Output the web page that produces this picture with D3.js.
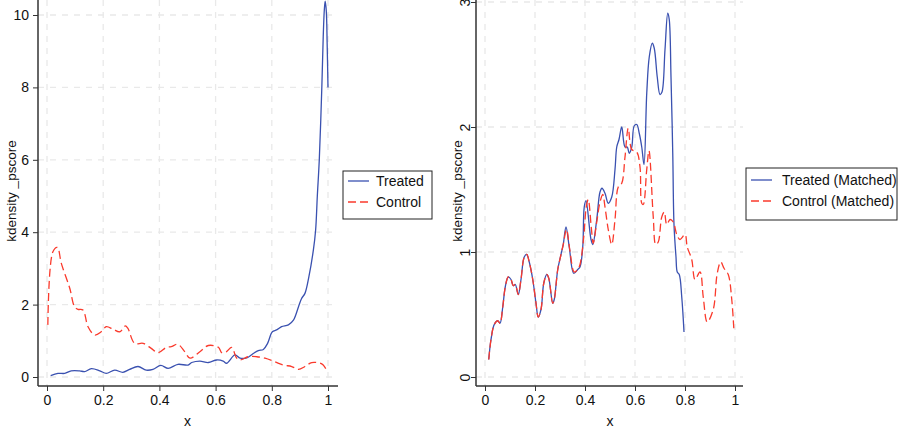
<!DOCTYPE html>
<html lang="en">
<head>
    <meta charset="UTF-8">
    <title>kdensity _pscore</title>
    <script src="https://cdn.jsdelivr.net/npm/d3@7"></script>
    <style>
        body { margin: 0; background: #fff; }
        text { font-family: "Liberation Sans", Arial, sans-serif; fill: #111; }
    </style>
</head>
<body>
</body>
<script>
    // ---- data ----
    var xTicks = [0, 0.2, 0.4, 0.6, 0.8, 1];
    var yTicksLeft = [0, 2, 4, 6, 8, 10];
    var yTicksRight = [0, 1, 2, 3];
    var legendLeft = ['Treated', 'Control'];
    var legendRight = ['Treated (Matched)', 'Control (Matched)'];
    var yTitle = 'kdensity _pscore';
    var xTitle = 'x';

    // left panel: treated
    var treatedX = [0.013, 0.039, 0.063, 0.086, 0.116, 0.134, 0.158, 0.188, 0.211, 0.241, 0.270, 0.294, 0.324, 0.353, 0.377, 0.405, 0.431, 0.466, 0.502, 0.515, 0.544, 0.574, 0.604, 0.627, 0.639, 0.669, 0.687, 0.711, 0.734, 0.752, 0.770, 0.785, 0.802, 0.817, 0.835, 0.859, 0.877, 0.895, 0.906, 0.918, 0.932, 0.948, 0.956, 0.962, 0.969, 0.978, 0.983, 0.987, 0.990, 0.994, 0.997, 1.0];
    var treatedY = [0.04, 0.10, 0.10, 0.17, 0.17, 0.15, 0.23, 0.17, 0.10, 0.19, 0.13, 0.21, 0.29, 0.19, 0.21, 0.32, 0.24, 0.35, 0.33, 0.40, 0.44, 0.40, 0.47, 0.44, 0.38, 0.61, 0.52, 0.53, 0.65, 0.73, 0.76, 0.93, 1.25, 1.30, 1.39, 1.44, 1.57, 1.94, 2.17, 2.31, 2.77, 3.51, 4.06, 5.0, 6.0, 8.0, 9.4, 10.15, 10.38, 10.1, 9.2, 8.0];

    // left panel: control
    var controlX = [0.003, 0.021, 0.037, 0.051, 0.081, 0.098, 0.110, 0.128, 0.146, 0.170, 0.193, 0.211, 0.235, 0.259, 0.279, 0.288, 0.312, 0.342, 0.371, 0.395, 0.425, 0.442, 0.466, 0.490, 0.509, 0.544, 0.574, 0.610, 0.622, 0.639, 0.657, 0.675, 0.687, 0.716, 0.746, 0.776, 0.811, 0.841, 0.871, 0.895, 0.918, 0.942, 0.972, 0.983, 0.995];
    var controlY = [1.44, 3.46, 3.58, 3.14, 2.45, 1.94, 1.87, 1.85, 1.39, 1.16, 1.25, 1.39, 1.32, 1.25, 1.41, 1.34, 0.93, 0.93, 0.79, 0.67, 0.82, 0.84, 0.90, 0.70, 0.52, 0.70, 0.87, 0.82, 0.67, 0.70, 0.82, 0.52, 0.47, 0.56, 0.56, 0.52, 0.42, 0.33, 0.29, 0.21, 0.29, 0.40, 0.38, 0.33, 0.19];

    // right panel: treated (matched)
    var treatedMX = [0.015, 0.024, 0.037, 0.051, 0.060, 0.071, 0.081, 0.093, 0.104, 0.113, 0.121, 0.133, 0.144, 0.157, 0.167, 0.177, 0.191, 0.204, 0.213, 0.224, 0.235, 0.247, 0.255, 0.271, 0.277, 0.291, 0.304, 0.313, 0.324, 0.337, 0.355, 0.371, 0.380, 0.391, 0.397, 0.404, 0.424, 0.431, 0.447, 0.460, 0.468, 0.480, 0.493, 0.507, 0.520, 0.527, 0.536, 0.547, 0.560, 0.569, 0.577, 0.587, 0.597, 0.607, 0.617, 0.627, 0.636, 0.647, 0.657, 0.669, 0.677, 0.689, 0.700, 0.708, 0.720, 0.731, 0.737, 0.744, 0.751, 0.756, 0.764, 0.769, 0.777, 0.787, 0.796];
    var treatedMY = [0.14, 0.30, 0.42, 0.45, 0.43, 0.56, 0.72, 0.80, 0.78, 0.73, 0.74, 0.66, 0.78, 0.96, 0.98, 0.92, 0.78, 0.59, 0.48, 0.54, 0.75, 0.82, 0.79, 0.59, 0.62, 0.86, 0.98, 1.06, 1.20, 1.04, 0.83, 0.86, 0.88, 1.04, 1.36, 1.41, 1.10, 1.06, 1.26, 1.48, 1.51, 1.47, 1.39, 1.44, 1.66, 1.84, 1.90, 2.00, 1.84, 1.84, 1.79, 1.84, 2.01, 2.02, 1.95, 1.84, 1.70, 2.27, 2.56, 2.67, 2.63, 2.40, 2.26, 2.28, 2.62, 2.91, 2.86, 2.40, 1.79, 1.22, 0.96, 0.84, 0.82, 0.64, 0.36];

    // right panel: control (matched)
    var controlMX = [0.015, 0.024, 0.037, 0.051, 0.060, 0.071, 0.081, 0.093, 0.104, 0.113, 0.121, 0.133, 0.144, 0.157, 0.167, 0.177, 0.191, 0.204, 0.213, 0.224, 0.235, 0.247, 0.255, 0.271, 0.277, 0.291, 0.304, 0.313, 0.326, 0.339, 0.357, 0.371, 0.380, 0.395, 0.405, 0.413, 0.425, 0.433, 0.447, 0.460, 0.471, 0.480, 0.493, 0.507, 0.520, 0.533, 0.547, 0.560, 0.573, 0.587, 0.607, 0.620, 0.627, 0.633, 0.647, 0.656, 0.673, 0.683, 0.693, 0.707, 0.717, 0.727, 0.740, 0.753, 0.767, 0.780, 0.800, 0.809, 0.827, 0.840, 0.860, 0.873, 0.889, 0.913, 0.929, 0.943, 0.956, 0.973, 0.987, 0.996];
    var controlMY = [0.14, 0.30, 0.42, 0.45, 0.43, 0.56, 0.72, 0.80, 0.78, 0.73, 0.74, 0.66, 0.78, 0.96, 0.98, 0.92, 0.78, 0.59, 0.48, 0.54, 0.75, 0.82, 0.79, 0.59, 0.62, 0.86, 0.98, 1.06, 1.18, 1.02, 0.84, 0.86, 0.90, 1.12, 1.36, 1.42, 1.20, 1.07, 1.24, 1.40, 1.46, 1.36, 1.18, 1.06, 1.26, 1.52, 1.55, 1.76, 1.99, 1.82, 1.80, 1.68, 1.39, 1.38, 1.66, 1.81, 1.28, 1.06, 1.08, 1.28, 1.32, 1.22, 1.26, 1.24, 1.14, 1.10, 1.14, 1.04, 0.94, 0.78, 0.84, 0.64, 0.44, 0.54, 0.83, 0.92, 0.87, 0.82, 0.62, 0.36];

    // ---- drawing ----
    var width = 904, height = 430;
    var blue = '#3a51b0', red = '#fa3a2c', gridColor = '#e9e9e9';
    var fs = 14;

    var svg = d3.select('body')
        .append('svg')
        .attr('width', width)
        .attr('height', height);

    function zip(xs, ys) {
        return xs.map(function (x, i) { return [x, ys[i]]; });
    }

    function drawPanel(opt) {
        var g = svg.append('g');
        var x = d3.scaleLinear().domain([0, 1]).range(opt.xRange);
        var y = d3.scaleLinear().domain(opt.yDomain).range(opt.yRange);

        // grid
        g.selectAll('.vgrid').data(xTicks).enter().append('line')
            .attr('x1', d => x(d)).attr('x2', d => x(d))
            .attr('y1', opt.top).attr('y2', opt.bottom)
            .attr('stroke', gridColor).attr('stroke-width', 1.3)
            .attr('stroke-dasharray', '6,6');
        g.selectAll('.hgrid').data(opt.yTicks).enter().append('line')
            .attr('x1', opt.left).attr('x2', opt.right)
            .attr('y1', d => y(d)).attr('y2', d => y(d))
            .attr('stroke', gridColor).attr('stroke-width', 1.3)
            .attr('stroke-dasharray', '6,6');

        // x axis
        var xAxis = g.append('g')
            .attr('transform', 'translate(0,' + opt.bottom + ')')
            .call(d3.axisBottom(x).tickValues(xTicks).tickSize(5).tickPadding(4)
                .tickFormat(d => String(+d.toFixed(1))));
        xAxis.select('.domain').remove();
        xAxis.selectAll('text').attr('font-size', fs).attr('fill', '#111');
        xAxis.selectAll('line').attr('stroke', '#333');

        // y axis
        var yAxis = g.append('g')
            .attr('transform', 'translate(' + opt.left + ',0)')
            .call(d3.axisLeft(y).tickValues(opt.yTicks).tickSize(5).tickPadding(4)
                .tickFormat(d => String(d)));
        yAxis.select('.domain').remove();
        yAxis.selectAll('line').attr('stroke', '#333');
        yAxis.selectAll('text').attr('font-size', fs).attr('fill', '#111');
        if (opt.rotateY) {
            yAxis.selectAll('text')
                .attr('text-anchor', 'middle')
                .attr('x', null).attr('dy', null)
                .attr('transform', 'translate(-6,0) rotate(-90)');
        }

        // axis lines
        g.append('line')
            .attr('x1', opt.left).attr('x2', opt.left)
            .attr('y1', opt.top).attr('y2', opt.bottom)
            .attr('stroke', '#333').attr('stroke-width', 1.5);
        g.append('line')
            .attr('x1', opt.left).attr('x2', opt.right)
            .attr('y1', opt.bottom).attr('y2', opt.bottom)
            .attr('stroke', '#333').attr('stroke-width', 1.5);

        // titles
        g.append('text')
            .attr('x', (x(0) + x(1)) / 2).attr('y', opt.bottom + 40)
            .attr('text-anchor', 'middle').attr('font-size', fs)
            .text(xTitle);
        g.append('text')
            .attr('transform', 'translate(' + opt.yTitleX + ',' + opt.yTitleY + ') rotate(-90)')
            .attr('text-anchor', 'middle').attr('font-size', 13.5)
            .text(yTitle);

        // curves
        var line = d3.line()
            .x(d => x(d[0])).y(d => y(d[1]))
            .curve(d3.curveCatmullRom.alpha(0.5));
        g.append('path')
            .attr('d', line(opt.series[0]))
            .attr('fill', 'none').attr('stroke', blue).attr('stroke-width', 1.3);
        g.append('path')
            .attr('d', line(opt.series[1]))
            .attr('fill', 'none').attr('stroke', red).attr('stroke-width', 1.3)
            .attr('stroke-dasharray', '8,4');

        // legend
        var lg = g.append('g').attr('transform', 'translate(' + opt.legend[0] + ',' + opt.legend[1] + ')');
        lg.append('rect')
            .attr('width', opt.legend[2]).attr('height', opt.legend[3])
            .attr('fill', '#fff').attr('stroke', '#222').attr('stroke-width', 1);
        opt.labels.forEach(function (lab, i) {
            var cy = 10 + i * 21 + (opt.legend[3] - 48) / 2;
            lg.append('line')
                .attr('x1', 5).attr('x2', 26)
                .attr('y1', cy).attr('y2', cy)
                .attr('stroke', i === 0 ? blue : red).attr('stroke-width', 1.3)
                .attr('stroke-dasharray', i === 0 ? null : '8,4');
            lg.append('text')
                .attr('x', opt.legend[4]).attr('y', cy)
                .attr('dy', '0.35em').attr('font-size', fs)
                .text(lab);
        });
    }

    drawPanel({
        xRange: [47, 328], yDomain: [0, 10], yRange: [377, 15],
        left: 38, right: 338, top: 0, bottom: 386,
        yTicks: yTicksLeft, rotateY: false,
        yTitleX: 16, yTitleY: 191,
        series: [zip(treatedX, treatedY), zip(controlX, controlY)],
        labels: legendLeft,
        legend: [343, 171, 89, 48, 33]
    });

    drawPanel({
        xRange: [485, 735], yDomain: [0, 3], yRange: [377, 2],
        left: 476, right: 743, top: 0, bottom: 386,
        yTicks: yTicksRight, rotateY: true,
        yTitleX: 462, yTitleY: 191,
        series: [zip(treatedMX, treatedMY), zip(controlMX, controlMY)],
        labels: legendRight,
        legend: [746, 168, 151, 52, 36]
    });
</script>
</html>
